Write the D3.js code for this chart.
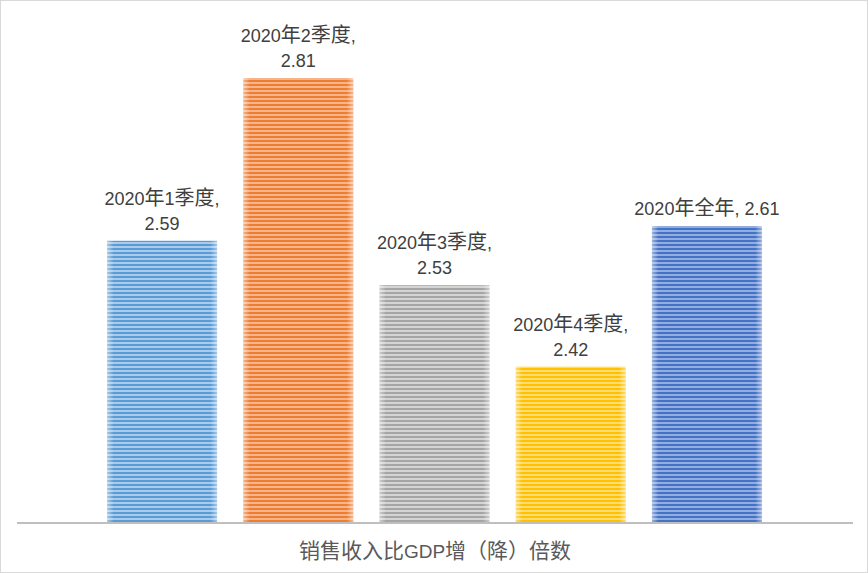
<!DOCTYPE html>
<html>
<head>
<meta charset="utf-8">
<script src="https://cdn.jsdelivr.net/npm/d3@7"></script>
<style>
  html, body { margin: 0; padding: 0; background: #fff; }
  svg { display: block; }
  text { font-family: "Liberation Sans", "Noto Sans CJK SC", sans-serif; }
  tspan.cjk { font-family: "Noto Sans CJK SC", sans-serif; }
</style>
</head>
<body>
<svg id="chart" width="868" height="573"></svg>
<script>
const categories = ["2020年1季度", "2020年2季度", "2020年3季度", "2020年4季度", "2020年全年"];
const values = [2.59, 2.81, 2.53, 2.42, 2.61];
const labelLines = [
  ["2020年1季度,", "2.59"],
  ["2020年2季度,", "2.81"],
  ["2020年3季度,", "2.53"],
  ["2020年4季度,", "2.42"],
  ["2020年全年, 2.61"]
];
const colors = ["#5B9BD5", "#ED7D31", "#A5A5A5", "#FFC000", "#4472C4"];
const lightColors = ["#A9CCEC", "#F5B48A", "#D4D4D4", "#FFDD73", "#92AEE0"];
const axisTitle = "销售收入比GDP增（降）倍数";
const yDomain = [2.21, 2.81];

const W = 868, H = 573;
const svg = d3.select("#chart");
const defs = svg.append("defs");

function richText(sel, str, latinSize, cjkSize) {
  const runs = str.match(/[\u3000-\u9fff\uff00-\uffef]+|[^\u3000-\u9fff\uff00-\uffef]+/g) || [];
  runs.forEach(r => {
    const isCjk = /[\u3000-\u9fff\uff00-\uffef]/.test(r);
    sel.append("tspan").attr("class", isCjk ? "cjk" : null)
      .attr("font-size", isCjk ? cjkSize : latinSize)
      .attr("xml:space", "preserve").text(r);
  });
  return sel;
}

// border
svg.append("rect").attr("x", 0.5).attr("y", 0.5).attr("width", W - 1).attr("height", H - 1)
  .attr("fill", "#fff").attr("stroke", "#D9D9D9");

const x = d3.scaleBand().domain(categories).range([94, 775]).paddingInner(0.193).paddingOuter(0.0965);
const y = d3.scaleLinear().domain(yDomain).range([522, 78]);

// stripe patterns
categories.forEach((c, i) => {
  const p = defs.append("pattern").attr("id", "pat" + i)
    .attr("patternUnits", "userSpaceOnUse").attr("width", 8).attr("height", 4);
  p.append("rect").attr("width", 8).attr("height", 4).attr("fill", lightColors[i]);
  p.append("rect").attr("width", 8).attr("height", 2).attr("fill", colors[i]);
});
// edge sheen gradient
const g = defs.append("linearGradient").attr("id", "edge").attr("x1", 0).attr("x2", 1).attr("y1", 0).attr("y2", 0);
[[0, 0.45], [0.06, 0], [0.94, 0], [1, 0.45]].forEach(([o, a]) =>
  g.append("stop").attr("offset", o).attr("stop-color", "#fff").attr("stop-opacity", a));

const bars = svg.append("g");
bars.selectAll("rect.bar").data(values).enter().append("rect").attr("class", "bar")
  .attr("x", (d, i) => x(categories[i])).attr("width", x.bandwidth())
  .attr("y", d => y(d)).attr("height", d => y(yDomain[0]) - y(d))
  .attr("fill", (d, i) => `url(#pat${i})`);
bars.selectAll("rect.sheen").data(values).enter().append("rect").attr("class", "sheen")
  .attr("x", (d, i) => x(categories[i])).attr("width", x.bandwidth())
  .attr("y", d => y(d)).attr("height", d => y(yDomain[0]) - y(d))
  .attr("fill", "url(#edge)");

// axis line
svg.append("line").attr("x1", 17).attr("x2", 853).attr("y1", 523).attr("y2", 523)
  .attr("stroke", "#BFBFBF").attr("stroke-width", 2);

// labels
const lab = svg.append("g");
values.forEach((v, i) => {
  const lines = labelLines[i];
  const cx = x(categories[i]) + x.bandwidth() / 2;
  const top = y(v);
  lines.forEach((t, j) => {
    const n = lines.length;
    const el = lab.append("text").attr("x", cx).attr("y", top - 11 - (n - 1 - j) * 25)
      .attr("text-anchor", "middle").attr("fill", "#404040");
    richText(el, t, 18, 20);
  });
});

const title = svg.append("text").attr("x", 435).attr("y", 558).attr("text-anchor", "middle")
  .attr("fill", "#595959");
richText(title, axisTitle, 19, 21);
</script>
</body>
</html>
